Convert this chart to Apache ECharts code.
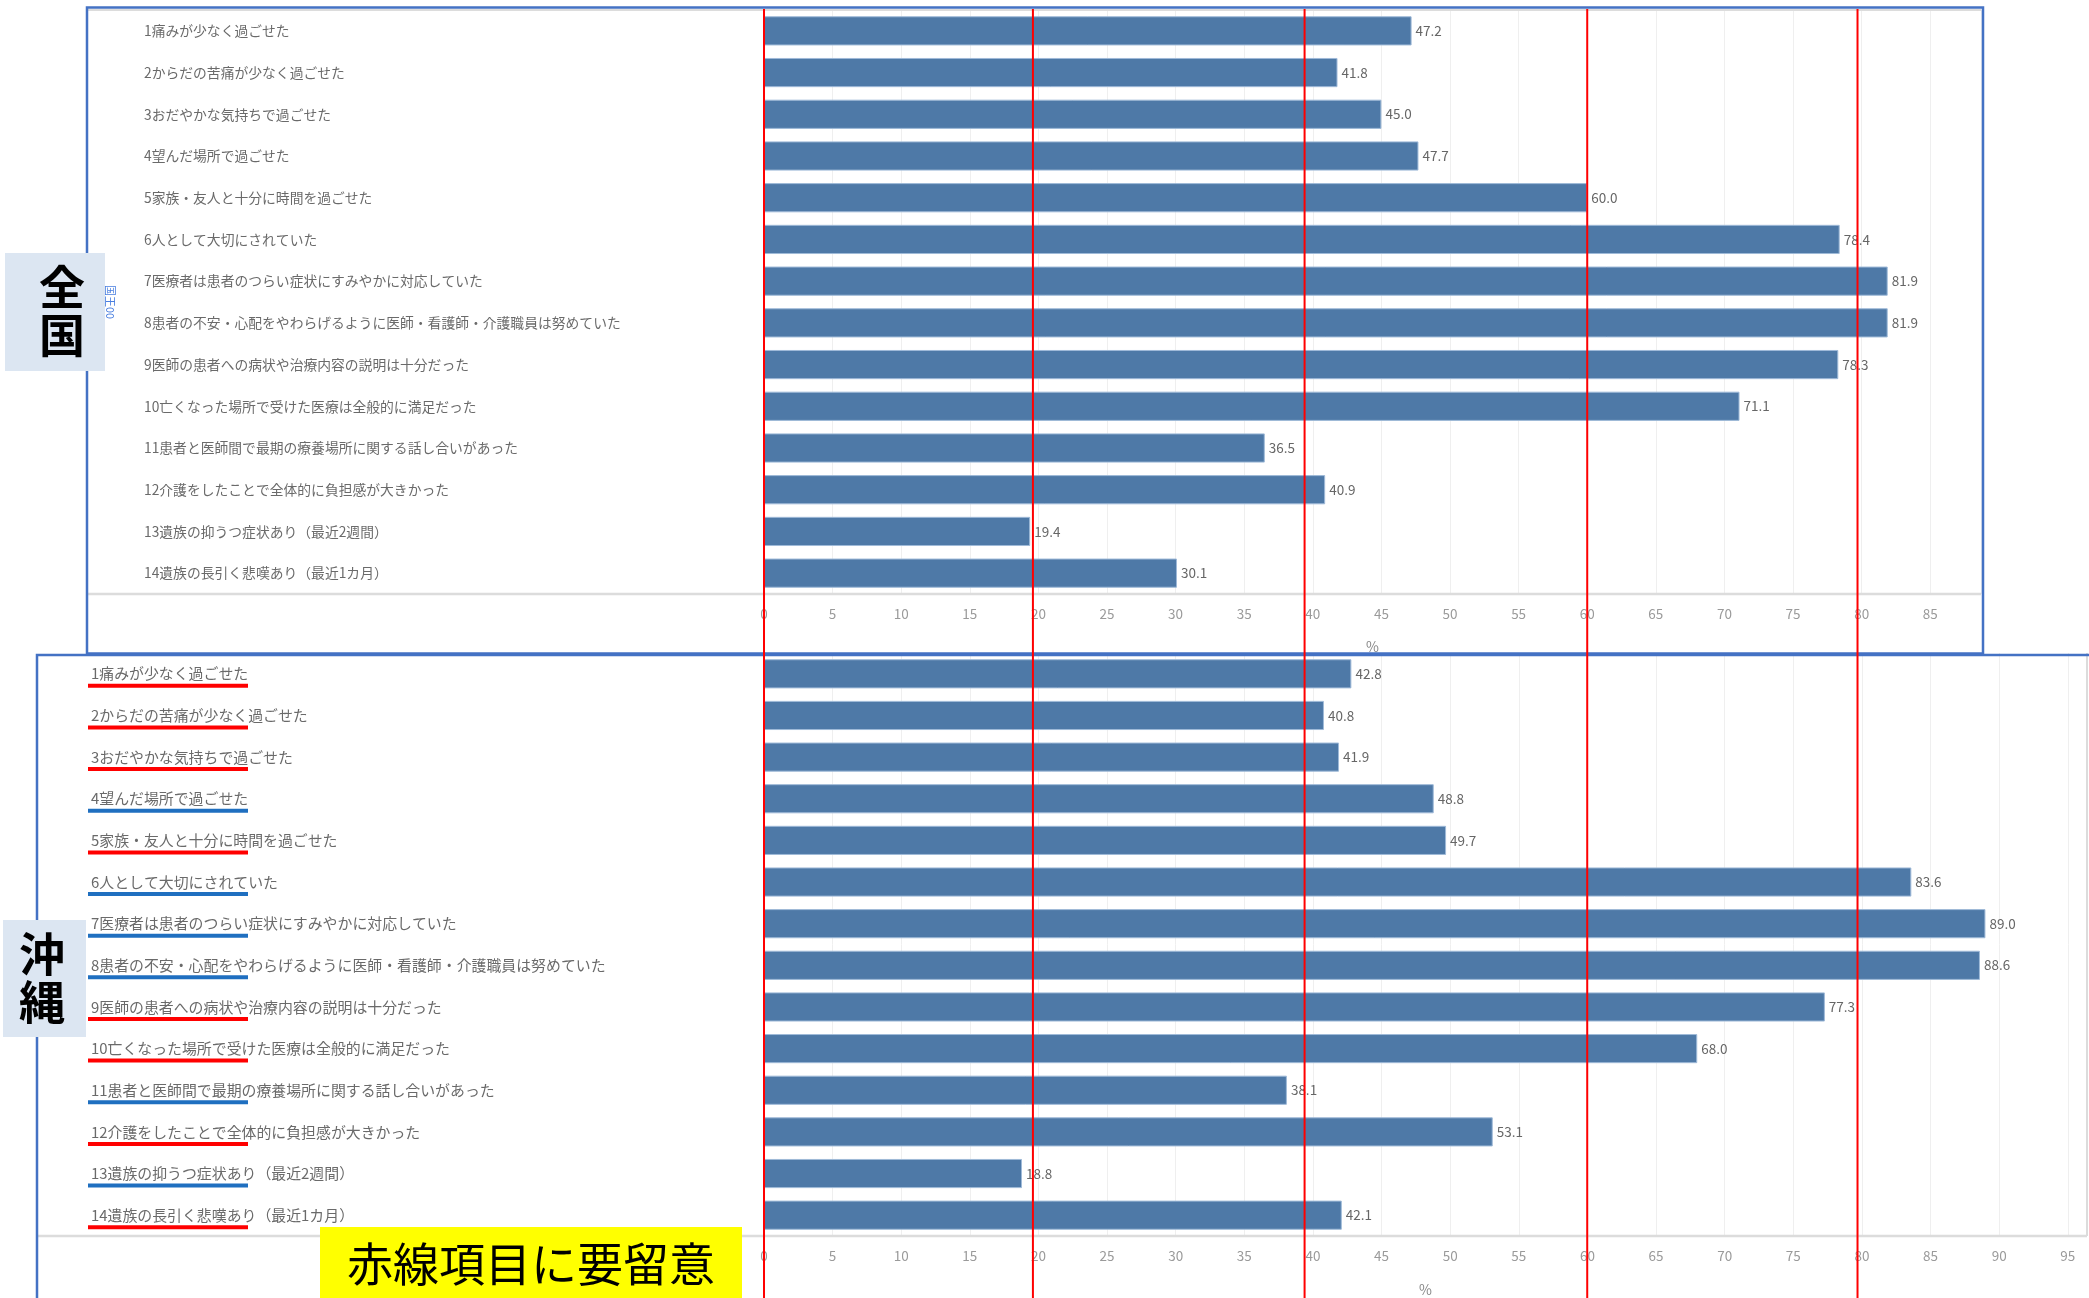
<!DOCTYPE html>
<html>
<head>
<meta charset="utf-8">
<script src="https://cdn.jsdelivr.net/npm/echarts@6/dist/echarts.min.js"></script>
<style>
  html, body { margin: 0; padding: 0; background: #fff; }
  #chart { width: 2089px; height: 1298px; }
</style>
</head>
<body>
<div id="chart"></div>
<script>
// Survey items (bereaved family evaluation), shared by both panels
const items = [
  '1痛みが少なく過ごせた',
  '2からだの苦痛が少なく過ごせた',
  '3おだやかな気持ちで過ごせた',
  '4望んだ場所で過ごせた',
  '5家族・友人と十分に時間を過ごせた',
  '6人として大切にされていた',
  '7医療者は患者のつらい症状にすみやかに対応していた',
  '8患者の不安・心配をやわらげるように医師・看護師・介護職員は努めていた',
  '9医師の患者への病状や治療内容の説明は十分だった',
  '10亡くなった場所で受けた医療は全般的に満足だった',
  '11患者と医師間で最期の療養場所に関する話し合いがあった',
  '12介護をしたことで全体的に負担感が大きかった',
  '13遺族の抑うつ症状あり（最近2週間）',
  '14遺族の長引く悲嘆あり（最近1カ月）'
];

// Percentages, nationwide
const zenkokuValues = [47.2, 41.8, 45.0, 47.7, 60.0, 78.4, 81.9, 81.9, 78.3, 71.1, 36.5, 40.9, 19.4, 30.1];
// Percentages, Okinawa
const okinawaValues = [42.8, 40.8, 41.9, 48.8, 49.7, 83.6, 89.0, 88.6, 77.3, 68.0, 38.1, 53.1, 18.8, 42.1];
// Underline colour per Okinawa item (red = needs attention)
const okinawaMarks = ['red', 'red', 'red', 'blue', 'red', 'blue', 'blue', 'blue', 'red', 'red', 'blue', 'red', 'blue', 'red'];
// Hand-placed guide lines drawn across both panels (in %)
const refLines = [0, 19.6, 39.4, 60, 79.7];

const panelTitles = ['全\n国', '沖\n縄'];
const noteText = '赤線項目に要留意';
const axisTitle = '国王00';

const FONT = '"Noto Sans CJK JP", "Noto Sans", sans-serif';
const BAR = '#4e79a7';
const BOX = '#4472c4';
const MARK_COLORS = { red: '#ff0000', blue: '#1f6fc0' };

const chart = echarts.init(document.getElementById('chart'), null, { renderer: 'canvas' });

function valueAxis(gridIndex, max, nameGap) {
  return {
    type: 'value', gridIndex, min: 0, max, interval: 5,
    axisLine: { show: false }, axisTick: { show: false },
    splitLine: { show: true, lineStyle: { color: '#efefef', width: 1 } },
    axisLabel: { color: '#9a9a9a', fontSize: 13.5, fontFamily: FONT, margin: 13, showMaxLabel: false },
    name: '%', nameLocation: 'middle', nameGap,
    nameTextStyle: { color: '#888', fontSize: 14, fontFamily: FONT }
  };
}

function catAxis(gridIndex, margin, fontSize) {
  return {
    type: 'category', gridIndex, data: items, inverse: true,
    axisLine: { show: false }, axisTick: { show: false },
    axisLabel: { align: 'left', margin, color: '#6a6a6a', fontSize, fontFamily: FONT }
  };
}

function barSeries(idx, values) {
  return {
    type: 'bar', xAxisIndex: idx, yAxisIndex: idx, data: values,
    barCategoryGap: '30%',
    itemStyle: { color: BAR, borderColor: '#9fbad8', borderWidth: 1 },
    label: {
      show: true, position: 'right', distance: 4,
      color: '#666', fontSize: 13.5, fontFamily: FONT,
      formatter: p => p.value.toFixed(1)
    },
    silent: true, animation: false
  };
}

chart.setOption({
  animation: false,
  backgroundColor: '#ffffff',
  grid: [
    { left: 764, top: 10, width: 1217, height: 584 },
    { left: 764, top: 653, width: 1323, height: 583 }
  ],
  xAxis: [valueAxis(0, 88.7, 46), valueAxis(1, 96.4, 47)],
  yAxis: [catAxis(0, 620, 13.8), catAxis(1, 673, 14.9)],
  series: [barSeries(0, zenkokuValues), barSeries(1, okinawaValues)]
});

// Overlay: panel frames, guide lines, underlines and captions
const g = [];
const line = (x1, y1, x2, y2, stroke, lineWidth, z) =>
  g.push({ type: 'line', z, silent: true, shape: { x1, y1, x2, y2 }, style: { stroke, lineWidth } });

// light frame lines around each plot
line(87, 10, 1981, 10, '#dcdcdc', 2, 1);
line(87, 594, 1981, 594, '#dcdcdc', 2.5, 1);
line(37, 1236, 2087, 1236, '#dcdcdc', 2.5, 1);
line(2087, 653, 2087, 1236, '#dcdcdc', 2, 1);

// blue panel frames
g.push({ type: 'rect', z: 5, silent: true, shape: { x: 87, y: 7.5, width: 1896, height: 646 },
  style: { fill: null, stroke: BOX, lineWidth: 2.5 } });
g.push({ type: 'rect', z: 5, silent: true, shape: { x: 37, y: 655, width: 2080, height: 700 },
  style: { fill: null, stroke: BOX, lineWidth: 2.5 } });

// small rotated field captions
g.push({ type: 'text', z: 6, silent: true, x: 110, y: 302, rotation: -Math.PI / 2,
  style: { text: axisTitle, fill: '#4a7fe0', font: '11px ' + FONT, textAlign: 'center', textVerticalAlign: 'middle' } });
g.push({ type: 'text', z: 6, silent: true, x: 51, y: 945, rotation: -Math.PI / 2,
  style: { text: axisTitle, fill: '#4a7fe0', font: '11px ' + FONT, textAlign: 'center', textVerticalAlign: 'middle' } });

// red guide lines
refLines.forEach(v => {
  const x = chart.convertToPixel({ xAxisIndex: 0 }, v);
  line(x, 9, x, 1298, '#ff0000', 2, 40);
});

// coloured underlines below the Okinawa item labels
items.forEach((name, i) => {
  const y = chart.convertToPixel({ yAxisIndex: 1 }, name);
  g.push({ type: 'rect', z: 12, silent: true, shape: { x: 88, y: y + 10, width: 160, height: 4 },
    style: { fill: MARK_COLORS[okinawaMarks[i]] } });
});

// panel title boxes
const titleBox = (x, y, w, h, cx, cy, text) => {
  g.push({ type: 'rect', z: 50, silent: true, shape: { x, y, width: w, height: h }, style: { fill: '#dce6f2' } });
  g.push({ type: 'text', z: 51, silent: true, x: cx, y: cy,
    style: { text, fill: '#000', font: 'bold 46px ' + FONT, textAlign: 'center', textVerticalAlign: 'middle', lineHeight: 48 } });
};
titleBox(5, 253, 100, 118, 62, 311, panelTitles[0]);
titleBox(3, 920, 83, 117, 42, 978, panelTitles[1]);

// note box
g.push({ type: 'rect', z: 50, silent: true, shape: { x: 320, y: 1227, width: 422, height: 75 }, style: { fill: '#ffff00' } });
g.push({ type: 'text', z: 51, silent: true, x: 531, y: 1264,
  style: { text: noteText, fill: '#000', font: '46px ' + FONT, textAlign: 'center', textVerticalAlign: 'middle' } });

chart.setOption({ graphic: g });
</script>
</body>
</html>
